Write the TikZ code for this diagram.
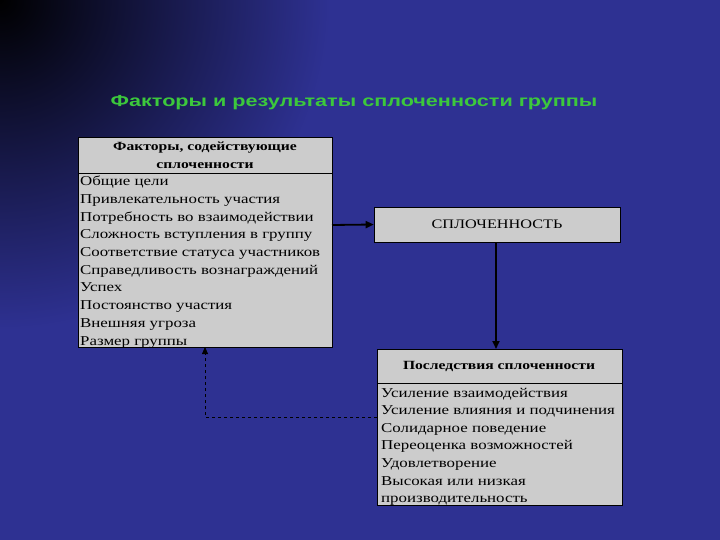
\documentclass[tikz,border=0pt]{standalone}
\usepackage{fontspec}
\setmainfont{Liberation Serif}[FakeStretch=1.25]
\newfontfamily\titlefont{Liberation Sans}[FakeStretch=1.35]
\definecolor{bg}{RGB}{46,49,146}
\definecolor{boxg}{RGB}{204,204,204}
\definecolor{ttl}{RGB}{60,200,60}
\usetikzlibrary{arrows.meta}
\begin{document}
\begin{tikzpicture}[x=1pt,y=-1pt,
  row/.style={anchor=base west,font=\fontsize{13.5}{14}\selectfont,inner sep=0pt},
  hdr/.style={font=\fontsize{12.5}{14}\selectfont\bfseries,inner sep=0pt,align=center},
  gbox/.style={fill=boxg,draw=black,line width=0.6pt},
  conn/.style={line width=1.8pt,-{Triangle[length=8pt,width=7pt]}}]
\useasboundingbox (0,0) rectangle (720,540);
\fill[bg] (0,0) rectangle (720,540);
\shade[inner color=black,outer color=bg] (0,0) circle (330);
\node[font=\titlefont\bfseries\fontsize{16}{17}\selectfont,text=ttl] (title) at (354,103) {Факторы и результаты сплоченности группы};
% left box
\draw[gbox] (78,137) rectangle (332,347);
\coordinate (Lr) at (332,225);
\coordinate (Lb) at (205,347);
\draw (78,173) -- (332,173);
\node[hdr] (lh) at (205,155) {Факторы, содействующие\\[4pt]сплоченности};
\foreach \t [count=\i] in {Общие цели,Привлекательность участия,Потребность во взаимодействии,Сложность вступления в группу,Соответствие статуса участников,Справедливость вознаграждений,Успех,Постоянство участия,Внешняя угроза,Размер группы}
  \node[row] (l\i) at (80,{168+17.7*\i}) {\t};
% middle box
\node[gbox,minimum width=246pt,minimum height=35pt,font=\fontsize{13}{14}\selectfont] (M) at (497,224.5) {СПЛОЧЕННОСТЬ};
% bottom box
\draw[gbox] (377,349) rectangle (622,505);
\coordinate (Bt) at (496,349);
\coordinate (Bl) at (377,417);
\draw (377,383) -- (622,383);
\node[hdr] (bh) at (499,366) {Последствия сплоченности};
\foreach \t [count=\i] in {Усиление взаимодействия,Усиление влияния и подчинения,Солидарное поведение,Переоценка возможностей,Удовлетворение,Высокая или низкая,производительность}
  \node[row] (b\i) at (381,{379.5+17.6*\i}) {\t};
\draw[conn] (Lr) -- (M.west);
\draw[conn] (M.south -| Bt) -- (Bt);
\draw[line width=0.8pt,dashed,-{Triangle[length=7pt,width=6pt]}] (Bl) -- (205,417) -- (Lb);
\end{tikzpicture}
\end{document}
